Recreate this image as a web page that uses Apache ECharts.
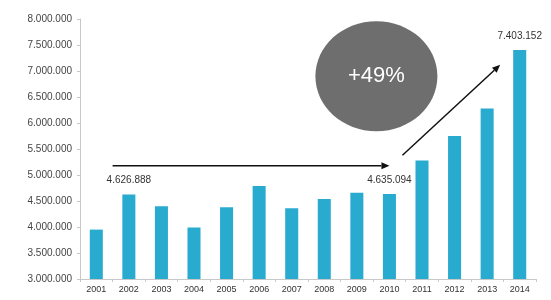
<!DOCTYPE html>
<html>
<head>
<meta charset="utf-8">
<script src="https://cdn.jsdelivr.net/npm/echarts@6/dist/echarts.min.js"></script>
<style>
  html, body { margin: 0; padding: 0; background: #fff; }
  #chart { width: 551px; height: 300px; }
</style>
</head>
<body>
<div id="chart"></div>
<script>
const years = ['2001', '2002', '2003', '2004', '2005', '2006', '2007', '2008', '2009', '2010', '2011', '2012', '2013', '2014']
const values = [3950000, 4626888, 4400000, 3990000, 4380000, 4790000, 4360000, 4540000, 4660000, 4635094, 5280000, 5750000, 6280000, 7403152]
const labelledYears = ['2002', '2010', '2014']
const growthText = '+49%'

// thousands separated by dots, as in the source
const dotFmt = v => String(Math.round(v)).replace(/\B(?=(\d{3})+(?!\d))/g, '.')

const chart = echarts.init(document.getElementById('chart'))

const option = {
  animation: false,
  textStyle: { fontFamily: 'Liberation Sans, Arial, sans-serif' },
  grid: { left: 80, right: 15, top: 19, bottom: 21 },
  xAxis: {
    type: 'category',
    data: years,
    axisLine: { lineStyle: { color: '#c8c8c8' } },
    axisTick: { show: true, length: 3, lineStyle: { color: '#c8c8c8' } },
    axisLabel: { color: '#333', fontSize: 9, margin: 6 },
  },
  yAxis: {
    type: 'value',
    min: 3000000,
    max: 8000000,
    interval: 500000,
    axisLine: { show: true, lineStyle: { color: '#c8c8c8' } },
    axisTick: { show: true, length: 3, lineStyle: { color: '#c8c8c8' } },
    splitLine: { show: false },
    axisLabel: { color: '#444', fontSize: 10, margin: 8, formatter: dotFmt },
  },
  series: [{
    type: 'bar',
    barWidth: '40%',
    itemStyle: { color: '#29abd0' },
    data: values.map((v, i) => ({
      value: v,
      label: {
        show: labelledYears.includes(years[i]),
        position: 'top',
        distance: 9,
        color: '#333',
        fontSize: 10,
        formatter: p => dotFmt(p.value),
      },
    })),
  }],
}

chart.setOption(option)

// annotation arrows and the growth bubble, placed through the chart's own scales
// (category positions between two years are interpolated)
const px = (cat, val) => {
  const lo = Math.floor(cat), hi = Math.ceil(cat), t = cat - lo
  const a = chart.convertToPixel({ seriesIndex: 0 }, [lo, val])
  const b = chart.convertToPixel({ seriesIndex: 0 }, [hi, val])
  return [a[0] + (b[0] - a[0]) * t, a[1]]
}
const hStart = px(0.5, 5180000)
const hEnd = px(9, 5180000)
const dStart = px(9.4, 5380000)
const dEnd = px(12.4, 7120000)
const bubble = px(8.6, 6900000)

function arrow(a, b) {
  const ang = Math.atan2(b[1] - a[1], b[0] - a[0])
  const len = 8, w = 3.5
  const bx = b[0] - len * Math.cos(ang), by = b[1] - len * Math.sin(ang)
  return [
    { type: 'line', shape: { x1: a[0], y1: a[1], x2: bx, y2: by }, style: { stroke: '#111', lineWidth: 1.5 } },
    {
      type: 'polygon',
      shape: { points: [b, [bx + w * Math.sin(ang), by - w * Math.cos(ang)], [bx - w * Math.sin(ang), by + w * Math.cos(ang)]] },
      style: { fill: '#111' },
    },
  ]
}

chart.setOption({
  graphic: [
    ...arrow(hStart, hEnd),
    ...arrow(dStart, dEnd),
    { type: 'ellipse', shape: { cx: bubble[0], cy: bubble[1], rx: 61, ry: 55 }, style: { fill: '#6e6e6e' } },
    {
      type: 'text', x: bubble[0], y: bubble[1],
      style: { text: growthText, fill: '#fff', fontSize: 22, fontFamily: 'Liberation Sans, Arial, sans-serif', align: 'center', verticalAlign: 'middle' },
    },
  ],
})
</script>
</body>
</html>
